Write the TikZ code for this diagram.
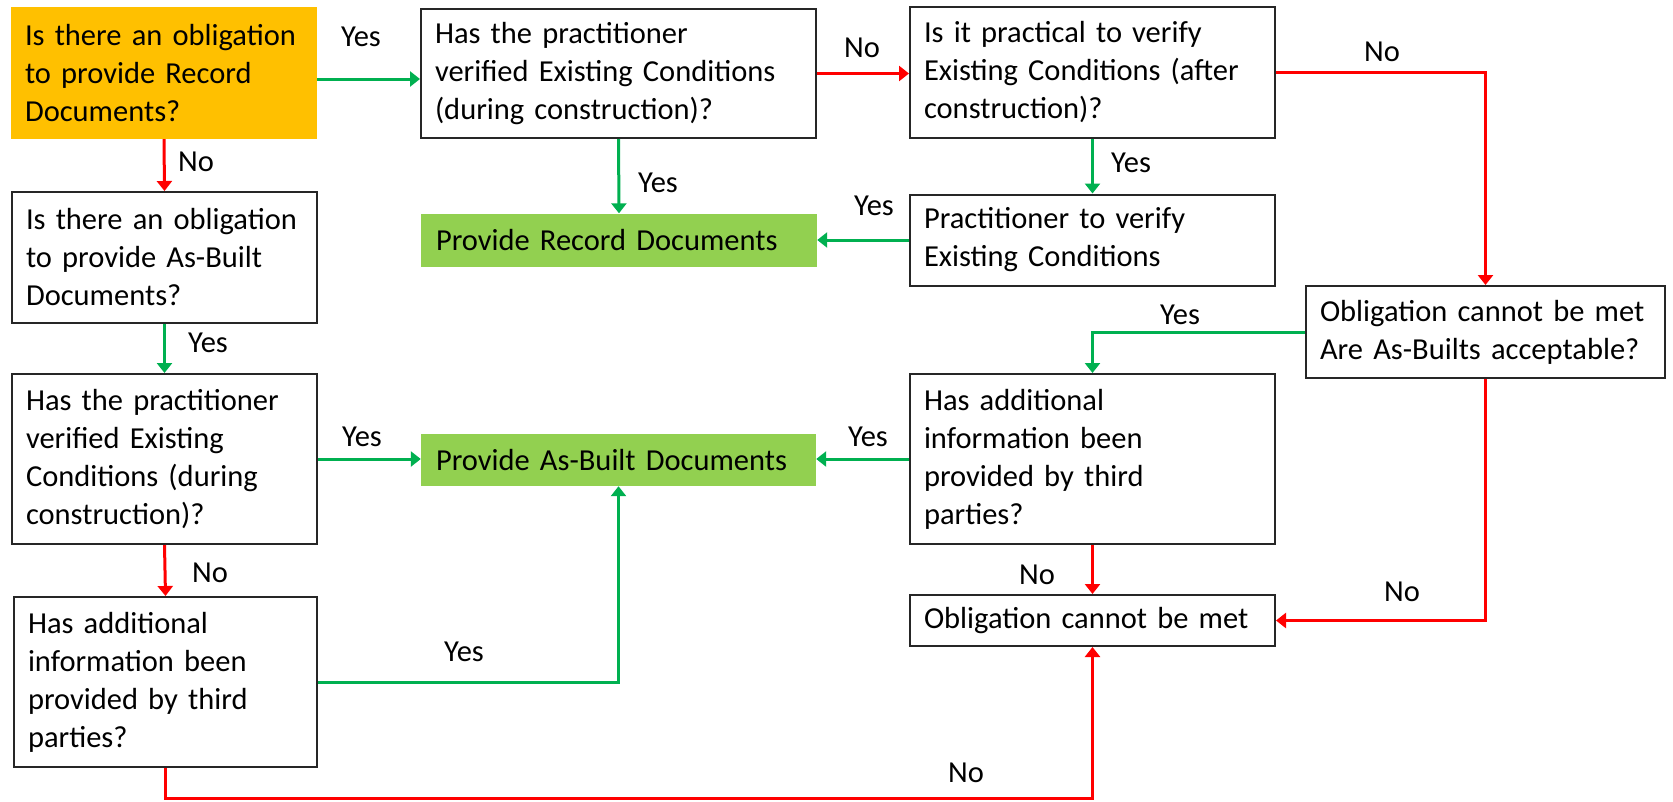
\documentclass[tikz,border=0pt]{standalone}
\usepackage{fontspec}
\setmainfont{Carlito}
\usepackage{tikz}
\usetikzlibrary{arrows.meta}
\definecolor{startorange}{HTML}{FFC000}
\definecolor{donegreen}{HTML}{92D050}
\definecolor{yesgreen}{HTML}{00B050}
\definecolor{nored}{HTML}{FF0000}

\begin{document}
\begin{tikzpicture}[x=1pt, y=-1pt,
  every node/.style={font=\fontsize{30.5}{38}\selectfont, text=black},
  qbox/.style={draw=black!85, line width=2pt, align=left, inner xsep=14pt, inner ysep=0pt},
  startbox/.style={fill=startorange, align=left, inner xsep=14pt, inner ysep=0pt},
  donebox/.style={fill=donegreen, align=left, inner xsep=15pt, inner ysep=0pt},
  lbl/.style={inner sep=0pt},
  yesarrow/.style={draw=yesgreen, line width=3pt, -{Triangle[length=10pt, width=15pt]}},
  noarrow/.style={draw=nored, line width=3pt, -{Triangle[length=10pt, width=15pt]}}]
\useasboundingbox (0,0) rectangle (1673,801);
\node[startbox, text width=278pt, minimum height=132pt] (rec0) at (164,73) {Is there an obligation\\to provide Record\\Documents?};
\node[qbox, text width=367pt, minimum height=129pt] (verif1) at (618.5,73.5) {Has the practitioner\\verified Existing Conditions\\(during construction)?};
\node[qbox, text width=337pt, minimum height=131pt] (pract1) at (1092.5,72.5) {Is it practical to verify\\Existing Conditions (after\\construction)?};
\node[donebox, text width=366pt, minimum height=53pt] (provrec) at (619,240) {Provide Record Documents};
\node[qbox, text width=337pt, minimum height=91pt] (practv) at (1092.5,240) {Practitioner to verify\\Existing Conditions};
\node[qbox, text width=277pt, minimum height=131pt] (asb0) at (164.5,257.5) {Is there an obligation\\to provide As-Built\\Documents?};
\node[qbox, text width=331pt, minimum height=92pt] (oblig1) at (1485.5,332) {Obligation cannot be met\\Are As-Builts acceptable?};
\node[qbox, text width=277pt, minimum height=170pt] (verif2) at (164.5,459) {Has the practitioner\\verified Existing\\Conditions (during\\construction)?};
\node[donebox, text width=365pt, minimum height=52pt] (provasb) at (618.5,460) {Provide As-Built Documents};
\node[qbox, text width=337pt, minimum height=170pt] (third1) at (1092.5,459) {Has additional\\information been\\provided by third\\parties?};
\node[qbox, text width=275pt, minimum height=170pt] (third2) at (165.5,682) {Has additional\\information been\\provided by third\\parties?};
\node[qbox, text width=337pt, minimum height=51pt] (fail) at (1092.5,620.5) {Obligation cannot be met};
\coordinate (bottomturn) at (165.5,798);

\node[lbl] (yes1) at (361,37) {Yes};
\node[lbl] (no1) at (862,48) {No};
\node[lbl] (no2) at (1382,52) {No};
\node[lbl] (yes2) at (658,183) {Yes};
\node[lbl] (yes3) at (1131,163) {Yes};
\node[lbl] (yes4) at (874,206) {Yes};
\node[lbl] (no3) at (196,162) {No};
\node[lbl] (yes5) at (208,343) {Yes};
\node[lbl] (yes6) at (1180,315) {Yes};
\node[lbl] (yes7) at (362,437) {Yes};
\node[lbl] (yes8) at (868,437) {Yes};
\node[lbl] (no4) at (210,573) {No};
\node[lbl] (yes9) at (464,652) {Yes};
\node[lbl] (no5) at (1037,575) {No};
\node[lbl] (no6) at (1402,592) {No};
\node[lbl] (no7) at (966,773) {No};

\draw[yesarrow] ([yshift=-6pt]rec0.east) -- ([yshift=-6pt]rec0.east -| verif1.west);
\draw[noarrow] (verif1.east) -- (verif1.east -| pract1.west);
\draw[noarrow] (pract1.east) -| (oblig1.north);
\draw[yesarrow] (verif1.south) -- (provrec.north);
\draw[yesarrow] (pract1.south) -- (practv.north);
\draw[yesarrow] (practv.west) -- (practv.west -| provrec.east);
\draw[noarrow] (rec0.south) -- (asb0.north);
\draw[yesarrow] (asb0.south) -- (verif2.north);
\draw[yesarrow] (oblig1.west) -| (third1.north);
\draw[yesarrow] (verif2.east) -- (verif2.east -| provasb.west);
\draw[yesarrow] (third1.west) -- (third1.west -| provasb.east);
\draw[noarrow] (verif2.south) -- (third2.north);
\draw[yesarrow] (third2.east) -| (provasb.south);
\draw[noarrow] (third1.south) -- (fail.north);
\draw[noarrow] (oblig1.south) |- (fail.east);
\draw[noarrow] (third2.south) -- (bottomturn) -| (fail.south);
\end{tikzpicture}
\end{document}
